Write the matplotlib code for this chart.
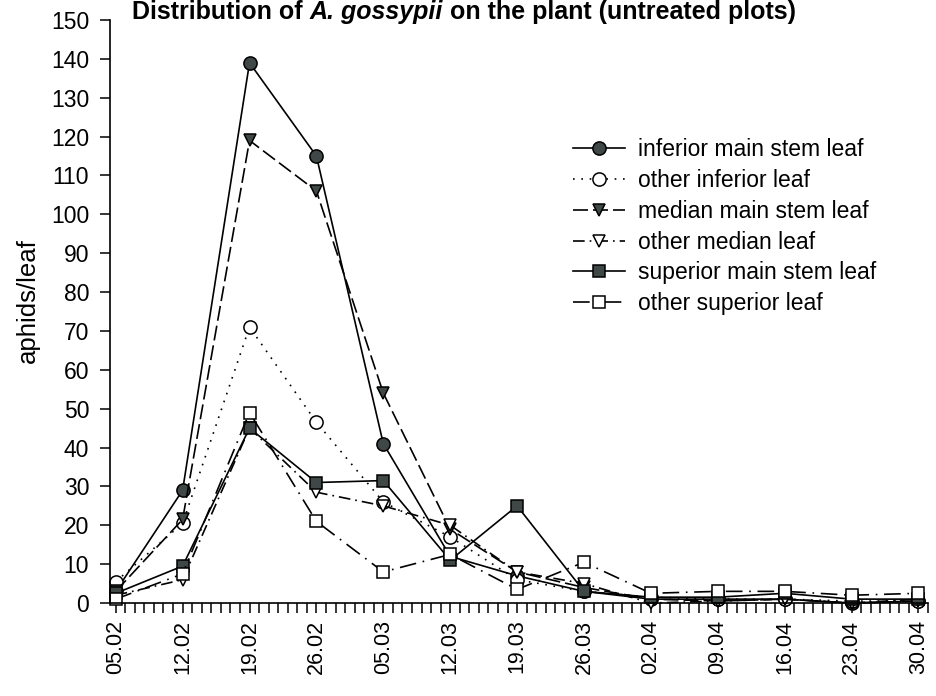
import numpy as np
import matplotlib
matplotlib.use("Agg")
import matplotlib.pyplot as plt
from matplotlib.ticker import MultipleLocator

plt.rcParams['font.family'] = ['Liberation Sans', 'DejaVu Sans']

# sampling dates (weekly)
dates = ['05.02', '12.02', '19.02', '26.02', '05.03', '12.03', '19.03',
         '26.03', '02.04', '09.04', '16.04', '23.04', '30.04']

# aphids per leaf
inf_main = [3, 29, 139, 115, 41, 12, 7, 3, 1, 1, 1, 0, 0.5]
oth_inf = [5.5, 20.5, 71, 46.5, 26, 17, 6, 3, 1.5, 1, 1, 0.5, 0.5]
med_main = [3, 21.5, 119, 106, 54, 19, 8, 4, 1, 0.5, 1, 0, 0.5]
oth_med = [2, 6, 45, 28.5, 25, 20, 8, 5, 0, 0.5, 1, 0, 1]
sup_main = [2.5, 9.5, 45, 31, 31.5, 11, 25, 3, 1.5, 1.5, 2.5, 1, 1]
oth_sup = [1, 7.5, 49, 21, 8, 12.5, 3.5, 10.5, 2.5, 3, 3, 2, 2.5]

labels = ['inferior main stem leaf', 'other inferior leaf',
          'median main stem leaf', 'other median leaf',
          'superior main stem leaf', 'other superior leaf']

days = np.arange(len(dates)) * 7
dark = '#3f4747'

fig = plt.figure(figsize=(9.36, 6.96), dpi=100)
ax = fig.add_axes([0.1175, 0.1336, 0.874, 0.8377])

styles = [
    (inf_main, '-', 'o', dark, 9.5),
    (oth_inf, (0, (1, 4)), 'o', 'white', 9.5),
    (med_main, (0, (9, 3)), 'v', dark, 9),
    (oth_med, (0, (7, 3, 1, 3)), 'v', 'white', 9),
    (sup_main, '-', 's', dark, 8.8),
    (oth_sup, (0, (10, 4, 1, 4)), 's', 'white', 8.8),
]
for (vals, ls, mk, fc, ms), lab in zip(styles, labels):
    ax.plot(days, vals, linestyle=ls, color='black', lw=1.2,
            marker=mk, markersize=ms, markerfacecolor=fc,
            markeredgecolor='black', markeredgewidth=1.1,
            label=lab, clip_on=False)

ax.set_xlim(-0.6, 85.0)
ax.set_ylim(0, 150)
ax.set_xticks(days)
ax.set_xticklabels(dates, rotation=90, fontsize=15.5)
ax.xaxis.set_minor_locator(MultipleLocator(1))
ax.set_yticks(np.arange(0, 151, 10))
ax.tick_params(axis='y', labelsize=16.5, length=7, width=1.1, pad=8)
ax.tick_params(axis='x', which='both', length=7, width=1.1, direction='out')
ax.tick_params(axis='x', which='major', pad=5)

for s in ['top', 'right']:
    ax.spines[s].set_visible(False)
for s in ['left', 'bottom']:
    ax.spines[s].set_linewidth(1.2)

fig.text(28 / 936, 1 - 301 / 696, 'aphids/leaf', rotation=90,
         ha='center', va='center', fontsize=18.5)

leg = ax.legend(loc='upper left', bbox_to_anchor=(573 / 936, 0.8015),
                bbox_transform=fig.transFigure, frameon=False,
                fontsize=16.5, handlelength=2.27, handletextpad=0.55,
                labelspacing=0.34, borderpad=0, borderaxespad=0)

# title at the very top edge
t3 = fig.text(796 / 936, 1 - 24 / 696, ' on the plant (untreated plots)',
              ha='right', va='bottom', fontsize=18, fontweight='bold')
t2 = ax.annotate('A. gossypii', xy=(0, 0), xycoords=t3, ha='right',
                 va='bottom', fontsize=18, fontweight='bold',
                 fontstyle='italic')
ax.annotate('Distribution of ', xy=(0, 0), xycoords=t2, ha='right',
            va='bottom', fontsize=18, fontweight='bold')

fig.savefig('out.png', dpi=100)
